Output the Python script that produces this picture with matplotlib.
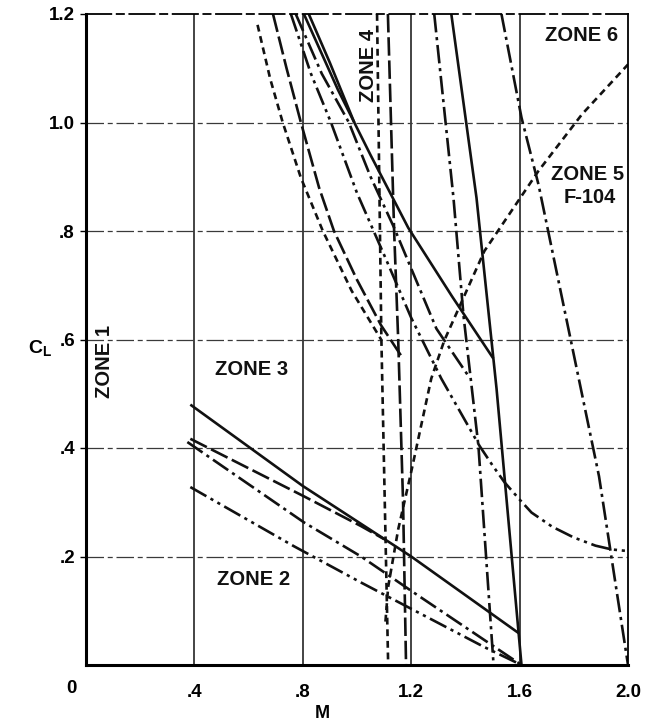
#!/usr/bin/env python3
"""
Zone boundaries C_L vs M (scanned chart recreation)
"""

import matplotlib
matplotlib.use("Agg")
import matplotlib.pyplot as plt

plt.rcParams['font.family'] = ['Liberation Sans', 'DejaVu Sans']

# axis ticks
x_ticks = [0.4, 0.8, 1.2, 1.6, 2.0]
x_tick_labels = ['.4', '.8', '1.2', '1.6', '2.0']
y_ticks = [0.2, 0.4, 0.6, 0.8, 1.0, 1.2]
y_tick_labels = ['.2', '.4', '.6', '.8', '1.0', '1.2']

# upper boundaries (zone 3 / zone 4), coming down from the top
short_upper_m = [0.633, 0.680, 0.726, 0.793, 0.874, 0.980, 1.089]
short_upper_cl = [1.18, 1.08, 1.00, 0.898, 0.80, 0.69, 0.60]

long_upper_m = [0.690, 0.740, 0.793, 0.860, 0.915, 1.000, 1.089, 1.163]
long_upper_cl = [1.20, 1.10, 1.00, 0.88, 0.80, 0.71, 0.626, 0.57]

dd_upper_m = [0.756, 0.830, 0.904, 1.000, 1.100, 1.200, 1.311, 1.452, 1.500,
              1.544, 1.600, 1.644, 1.720, 1.800, 1.880, 1.940, 2.000]
dd_upper_cl = [1.20, 1.09, 1.00, 0.87, 0.756, 0.64, 0.528, 0.404, 0.368,
               0.337, 0.305, 0.281, 0.255, 0.235, 0.220, 0.213, 0.210]

dashdot_upper_m = [0.774, 0.870, 0.970, 1.050, 1.137, 1.293, 1.408]
dashdot_upper_cl = [1.20, 1.09, 1.00, 0.90, 0.806, 0.62, 0.535]

solid_upper_m = [0.804, 0.930, 1.050, 1.189, 1.350, 1.503]
solid_upper_cl = [1.20, 1.06, 0.94, 0.806, 0.68, 0.565]

solid_upper2_m = [0.822, 0.900, 0.990]
solid_upper2_cl = [1.20, 1.11, 1.00]

# lower boundaries (zone 2 / zone 3)
solid_lower_m = [0.385, 0.800, 1.200, 1.596]
solid_lower_cl = [0.48, 0.33, 0.20, 0.059]

long_lower_m = [0.385, 0.804, 1.015, 1.100]
long_lower_cl = [0.417, 0.311, 0.256, 0.232]

dashdot_lower_m = [0.374, 0.804, 1.015, 1.211, 1.607]
dashdot_lower_cl = [0.411, 0.263, 0.200, 0.133, 0.0]

dd_lower_m = [0.385, 0.767, 1.015, 1.470, 1.607]
dd_lower_cl = [0.328, 0.219, 0.152, 0.033, 0.0]

# F-104 zone 5 boundary (rising)
f104_m = [1.105, 1.115, 1.152, 1.200, 1.274, 1.322, 1.470, 1.670, 1.830, 2.000]
f104_cl = [0.08, 0.144, 0.250, 0.356, 0.528, 0.598, 0.763, 0.911, 1.015, 1.107]

# near vertical boundaries
short_vert_m = [1.074, 1.090, 1.115]
short_vert_cl = [1.20, 0.60, 0.0]

long_vert_m = [1.114, 1.137, 1.152, 1.170, 1.181]
long_vert_cl = [1.20, 0.80, 0.60, 0.30, 0.0]

steep_dashdot_m = [1.285, 1.356, 1.393, 1.448, 1.504]
steep_dashdot_cl = [1.20, 0.861, 0.644, 0.404, 0.0]

steep_solid_m = [1.348, 1.441, 1.515, 1.607]
steep_solid_cl = [1.20, 0.861, 0.509, 0.0]

right_dashdot_m = [1.533, 1.607, 1.670, 1.893, 2.000]
right_dashdot_cl = [1.20, 1.009, 0.885, 0.348, 0.0]

# line styles
SHORT = (0, (2.6, 1.8))
LONG = (0, (7, 1.8))
DASHDOT = (0, (7, 1.8, 1.2, 1.8))
DASHDOTDOT = (0, (7, 1.8, 1.2, 1.8, 1.2, 1.8))
SOLID = '-'

LW = 1.9
INK = '#111111'


def draw(ax, m, cl, style):
    ax.plot(m, cl, color=INK, linewidth=LW, linestyle=style,
            solid_capstyle='butt', dash_capstyle='butt',
            solid_joinstyle='round', clip_on=True)


fig = plt.figure(figsize=(6.48, 7.21), dpi=100)
ax = fig.add_axes([86 / 648, 1 - 665 / 721, 542 / 648, 651 / 721])

ax.set_xlim(0, 2.0)
ax.set_ylim(0, 1.2)

# grid: vertical lines solid, horizontal broken
for x in x_ticks[:-1]:
    ax.axvline(x, color=INK, linewidth=1.1, zorder=1)
for y in y_ticks[:-1]:
    ax.axhline(y, color='#3a3a3a', linewidth=0.9, linestyle=(0, (14, 3, 4, 3)), zorder=1)

# upper curves
draw(ax, short_upper_m, short_upper_cl, SHORT)
draw(ax, long_upper_m, long_upper_cl, LONG)
draw(ax, dd_upper_m, dd_upper_cl, DASHDOTDOT)
draw(ax, dashdot_upper_m, dashdot_upper_cl, DASHDOT)
draw(ax, solid_upper_m, solid_upper_cl, SOLID)
draw(ax, solid_upper2_m, solid_upper2_cl, SOLID)

# lower curves
draw(ax, solid_lower_m, solid_lower_cl, SOLID)
draw(ax, long_lower_m, long_lower_cl, LONG)
draw(ax, dashdot_lower_m, dashdot_lower_cl, DASHDOT)
draw(ax, dd_lower_m, dd_lower_cl, DASHDOTDOT)

# F-104 and the near vertical boundaries
draw(ax, f104_m, f104_cl, SHORT)
draw(ax, short_vert_m, short_vert_cl, SHORT)
draw(ax, long_vert_m, long_vert_cl, LONG)
draw(ax, steep_dashdot_m, steep_dashdot_cl, DASHDOT)
draw(ax, steep_solid_m, steep_solid_cl, SOLID)
draw(ax, right_dashdot_m, right_dashdot_cl, DASHDOT)

# frame
for side in ['left', 'bottom']:
    ax.spines[side].set_linewidth(2.2)
ax.spines['right'].set_linewidth(1.3)
ax.spines['top'].set_linewidth(1.3)
ax.spines['top'].set_linestyle((0, (14, 3, 4, 3)))

# ticks
ax.set_xticks(x_ticks)
ax.set_xticklabels(x_tick_labels)
ax.set_yticks(y_ticks)
ax.set_yticklabels(y_tick_labels)
ax.tick_params(axis='x', length=0, pad=14, labelsize=13.5)
ax.tick_params(axis='y', length=4, width=1, pad=4, labelsize=13.5)
for lab in ax.get_xticklabels() + ax.get_yticklabels():
    lab.set_fontweight('bold')
ax.text(-0.052, -0.043, '0', ha='center', va='center', fontsize=13.5,
        fontweight='bold', clip_on=False)

# axis labels
ax.set_xlabel('M', fontsize=13, fontweight='bold')
ax.xaxis.set_label_coords((322 - 86) / 542, -(705 - 665) / 651)
ax.set_ylabel(r'C$_\mathregular{L}$', fontsize=14, fontweight='bold', rotation=0)
ax.yaxis.set_label_coords(-0.085, 0.47)

# zone labels
zone_kw = dict(fontsize=14.5, fontweight='bold', color=INK)
ax.text(1.83, 1.16, 'ZONE 6', ha='center', va='center', **zone_kw)
ax.text(1.85, 0.905, 'ZONE 5', ha='center', va='center', **zone_kw)
ax.text(1.86, 0.862, 'F-104', ha='center', va='center', **zone_kw)
ax.text(1.042, 1.105, 'ZONE 4', ha='center', va='center', rotation=90, **zone_kw)
ax.text(0.07, 0.56, 'ZONE 1', ha='center', va='center', rotation=90, **zone_kw)
ax.text(0.61, 0.545, 'ZONE 3', ha='center', va='center', **zone_kw)
ax.text(0.62, 0.157, 'ZONE 2', ha='center', va='center', **zone_kw)

plt.savefig('out.png', dpi=100)
